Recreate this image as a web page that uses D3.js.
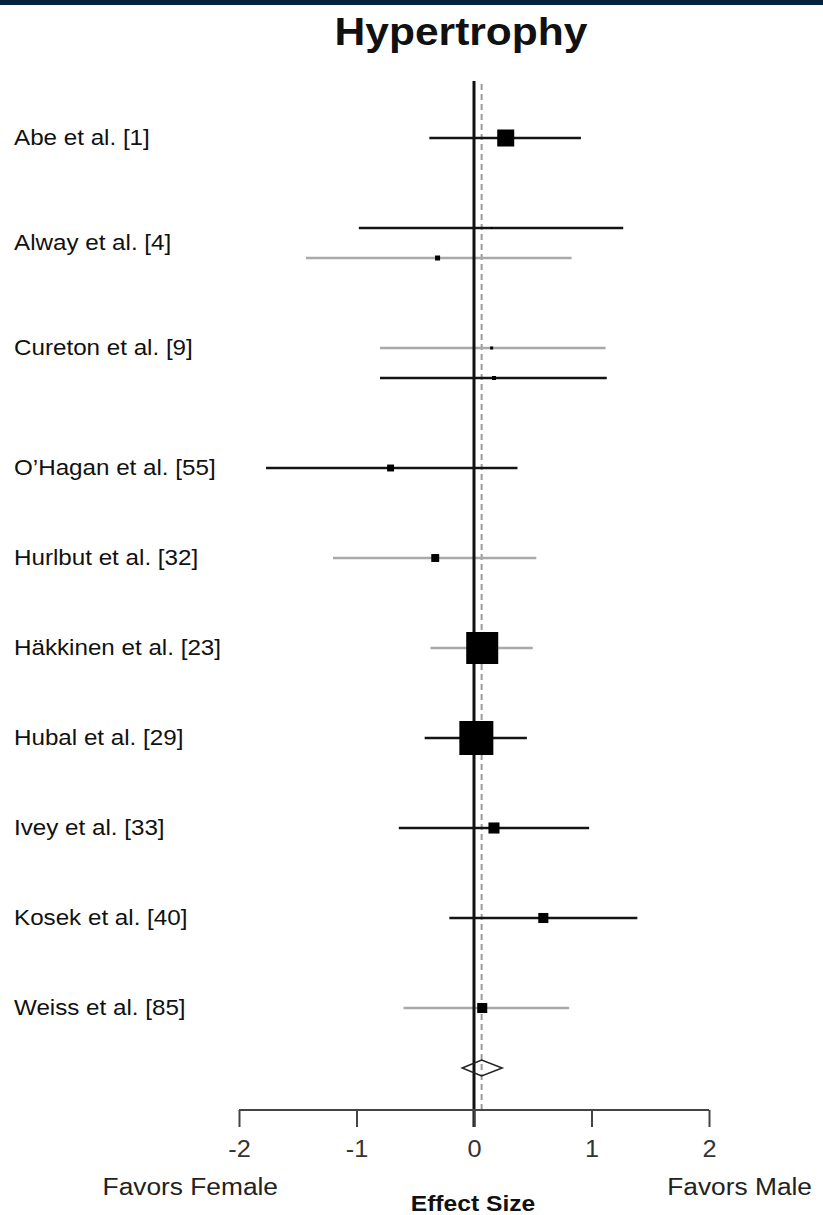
<!DOCTYPE html>
<html>
<head>
<meta charset="utf-8">
<script src="https://cdn.jsdelivr.net/npm/d3@7"></script>
<style>
  html, body { margin: 0; padding: 0; background: #fff; }
  svg { display: block; font-family: "Liberation Sans", Arial, sans-serif; }
</style>
</head>
<body>
<svg id="chart" width="823" height="1215"></svg>
<script>
// ---- data ----
const studyLabels = ["Abe et al. [1]", "Alway et al. [4]", "Cureton et al. [9]", "O\u2019Hagan et al. [55]",
  "Hurlbut et al. [32]", "H\u00e4kkinen et al. [23]", "Hubal et al. [29]", "Ivey et al. [33]",
  "Kosek et al. [40]", "Weiss et al. [85]"];
const labelRows = [0, 3.5, 7, 11, 14, 17, 20, 23, 26, 29];

// one entry per effect-size line
const esRows   = [0, 3, 4, 7, 8, 11, 14, 17, 20, 23, 26, 29];
const esGroup  = ["B", "B", "A", "A", "B", "B", "A", "A", "B", "B", "B", "A"];
const esValue  = [0.27, 0.15, -0.31, 0.15, 0.17, -0.71, -0.33, 0.07, 0.02, 0.17, 0.59, 0.07];
const esLower  = [-0.38, -0.98, -1.43, -0.80, -0.80, -1.77, -1.20, -0.37, -0.42, -0.64, -0.21, -0.60];
const esUpper  = [0.91, 1.27, 0.83, 1.12, 1.13, 0.37, 0.53, 0.50, 0.45, 0.98, 1.39, 0.81];
const esWeight = [9.7, 0.13, 0.84, 0.3, 0.54, 1.6, 2.1, 34.4, 38.8, 4.1, 3.4, 3.4];

const summary = { row: 31, es: 0.065, lo: -0.10, hi: 0.24 };
const xTicks = [-2, -1, 0, 1, 2];
const xTickLabels = ["-2", "-1", "0", "1", "2"];

// ---- drawing ----
const svg = d3.select("#chart");
const x = d3.scaleLinear().domain([-2, 2]).range([239, 709]);
const y = d3.scaleLinear().domain([0, 29]).range([138, 1008]);
const size = d3.scaleSqrt().domain([0, 38.8]).range([0, 34]);
const color = d3.scaleOrdinal().domain(["A", "B"]).range(["#a9a9a9", "#141414"]);
const axisY = 1110;

// top bar
svg.append("rect").attr("x", 0).attr("y", 0).attr("width", 823).attr("height", 5).attr("fill", "#02223f");

// title
svg.append("text").attr("transform", "translate(461,45) scale(1.12,1)")
  .attr("text-anchor", "middle").attr("font-size", 38).attr("font-weight", "bold")
  .attr("fill", "#111").text("Hypertrophy");

// dashed summary line
svg.append("line").attr("x1", x(summary.es)).attr("x2", x(summary.es))
  .attr("y1", 84).attr("y2", axisY).attr("stroke", "#9a9a9a")
  .attr("stroke-width", 2).attr("stroke-dasharray", "6,4");

// CI lines
const rows = esRows.map((r, i) => ({ r, g: esGroup[i], es: esValue[i], lo: esLower[i], hi: esUpper[i], w: esWeight[i] }));
svg.append("g").selectAll("line").data(rows).join("line")
  .attr("x1", d => x(d.lo)).attr("x2", d => x(d.hi))
  .attr("y1", d => y(d.r)).attr("y2", d => y(d.r))
  .attr("stroke", d => color(d.g)).attr("stroke-width", 2.5);

// zero line
svg.append("line").attr("x1", x(0)).attr("x2", x(0))
  .attr("y1", 81).attr("y2", axisY + 17).attr("stroke", "#111").attr("stroke-width", 3);

// squares
svg.append("g").selectAll("rect").data(rows).join("rect")
  .attr("x", d => x(d.es) - Math.max(size(d.w), 2) / 2)
  .attr("y", d => y(d.r) - Math.max(size(d.w), 2) / 2)
  .attr("width", d => Math.max(size(d.w), 2))
  .attr("height", d => Math.max(size(d.w), 2))
  .attr("fill", "#000");

// summary diamond
const dy = y(summary.row);
svg.append("path")
  .attr("d", `M${x(summary.lo)},${dy} L${x(summary.es)},${dy - 8} L${x(summary.hi)},${dy} L${x(summary.es)},${dy + 8} Z`)
  .attr("fill", "none").attr("stroke", "#222").attr("stroke-width", 1.5);

// study labels
svg.append("g").selectAll("text").data(studyLabels).join("text")
  .attr("transform", (d, i) => `translate(14,${y(labelRows[i]) + 7}) scale(1.1,1)`)
  .attr("font-size", 22).attr("fill", "#111").text(d => d);

// x axis
const axis = svg.append("g").attr("transform", `translate(0,${axisY})`)
  .call(d3.axisBottom(x).tickValues(xTicks).tickFormat((d, i) => xTickLabels[i]).tickSize(17).tickPadding(14));
axis.select(".domain").attr("stroke", "#444").attr("stroke-width", 2).attr("d", `M${x(-2)},0H${x(2)}`);
axis.selectAll(".tick line").attr("stroke", "#444").attr("stroke-width", 2);
axis.selectAll(".tick text").attr("font-size", 23).attr("fill", "#333")
  .attr("font-family", "'Liberation Sans', Arial, sans-serif")
  .attr("transform", "scale(1.1,1)");

// side labels
svg.append("text").attr("transform", "translate(278,1195) scale(1.12,1)")
  .attr("text-anchor", "end").attr("font-size", 23.5).attr("fill", "#222").text("Favors Female");
svg.append("text").attr("transform", "translate(812,1195) scale(1.12,1)")
  .attr("text-anchor", "end").attr("font-size", 23.5).attr("fill", "#222").text("Favors Male");
svg.append("text").attr("transform", "translate(473,1211) scale(1.12,1)")
  .attr("text-anchor", "middle").attr("font-size", 22).attr("font-weight", "bold")
  .attr("fill", "#111").text("Effect Size");
</script>
</body>
</html>
